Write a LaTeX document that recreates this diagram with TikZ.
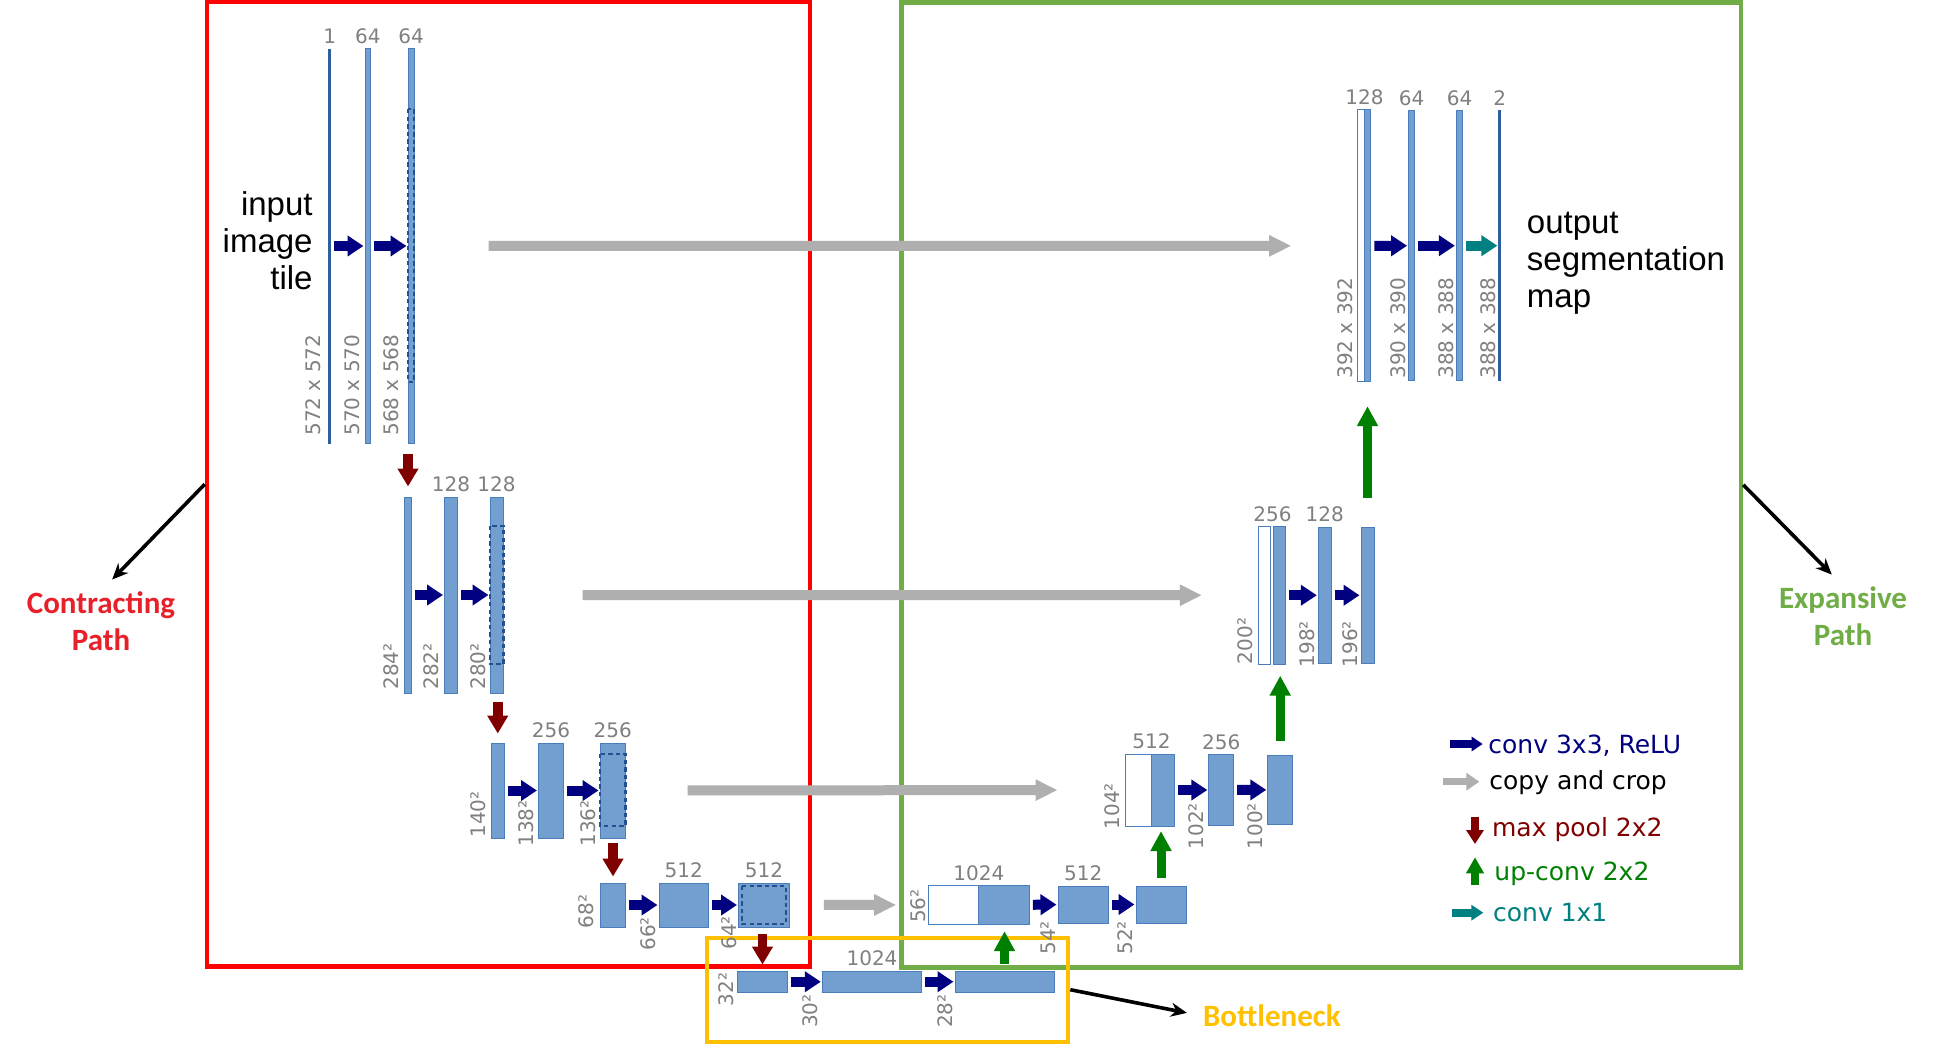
\documentclass[tikz,border=0pt]{standalone}
\usepackage{fontspec}
\setmainfont{Liberation Sans}
\newfontfamily\dvfont{DejaVu Sans}
\newfontfamily\calfont{Carlito}
\usetikzlibrary{arrows.meta,fit}

\definecolor{barfill}{HTML}{729FCF}
\definecolor{barline}{HTML}{4A7EBB}
\definecolor{thinblue}{HTML}{2F5E9E}
\definecolor{cropline}{HTML}{24508F}
\definecolor{numgray}{HTML}{808080}
\definecolor{convblue}{HTML}{000080}
\definecolor{poolred}{HTML}{800000}
\definecolor{upgreen}{HTML}{008000}
\definecolor{oneteal}{HTML}{008080}
\definecolor{copygray}{HTML}{AFAFAF}
\definecolor{contred}{HTML}{FF0000}
\definecolor{conttext}{HTML}{E8202A}
\definecolor{expgreen}{HTML}{70AD47}
\definecolor{neckyellow}{HTML}{FFC000}

\tikzset{
  fmap/.style={draw=barline, fill=barfill, line width=0.5pt, inner sep=0pt},
  copied/.style={draw=barline, fill=white, line width=0.5pt, inner sep=0pt},
  thinmap/.style={draw=thinblue, fill=thinblue, line width=0.4pt, inner sep=0pt},
  cropbox/.style={draw=cropline, line width=1.25pt, dash pattern=on 2.2pt off 1.6pt},
  chan/.style={text=numgray, font=\dvfont\fontsize{10}{12}\selectfont, anchor=base, yshift=2.5pt, inner sep=0pt},
  dimlabel/.style={text=numgray, font=\dvfont\fontsize{10}{12}\selectfont, rotate=90, anchor=west, inner sep=0pt},
  conv/.style={draw=convblue, line width=5pt, -{Triangle[length=8pt,width=10pt]}, shorten <=1.5pt, shorten >=0.5pt},
  onebyone/.style={conv, draw=oneteal},
  copycrop/.style={draw=copygray, line width=5pt, -{Triangle[length=11pt,width=10pt]}},
  pool/.style={draw=poolred, line width=4.75pt, -{Triangle[length=9pt,width=10pt]}},
  upconv/.style={draw=upgreen, line width=4.5pt, -{Triangle[length=10pt,width=10pt]}},
  keyarrow/.style={line width=4pt, shorten <=0pt, shorten >=0pt},
  pathbox/.style={line width=2.25pt, inner sep=0pt},
  pointer/.style={draw=black, line width=1.8pt, -{Stealth[length=8pt,width=7pt]}},
  pathname/.style={font=\calfont\bfseries\fontsize{15.5}{18.5}\selectfont, align=center, inner sep=0pt},
  keytext/.style={font=\dvfont\fontsize{12.5}{15}\selectfont, anchor=base west, inner sep=0pt},
  bigtext/.style={font=\fontsize{16.5}{18.5}\selectfont, inner sep=0pt}
}

\begin{document}
\begin{tikzpicture}[x=0.5pt, y=-0.5pt]
\path[use as bounding box, fill=white] (0,0) rectangle (1946,1053);

% the three framing boxes
\node[pathbox, draw=contred, fit={(207,2) (810,966.5)}] (redbox) {};
\node[pathbox, draw=expgreen, fit={(901.4,2.3) (1741,967.3)}] (greenbox) {};
\node[pathbox, line width=2pt, draw=neckyellow, fit={(706.7,937.7) (1068.3,1041.7)}] (yellowbox) {};

% contracting path
\node[thinmap, fit={(329,49) (330.5,443)}] (c1a) {};
\node[fmap, fit={(365,49) (370.5,443)}] (c1b) {};
\node[fmap, fit={(408,49) (414,443)}] (c1c) {};
\draw[cropbox] (408,109) rectangle (414,382);

\node[fmap, fit={(404.5,497) (411.5,693)}] (c2a) {};
\node[fmap, fit={(444.5,497) (457.5,693)}] (c2b) {};
\node[fmap, fit={(490,497) (503,693)}] (c2c) {};
\draw[cropbox] (490,526) rectangle (503.5,664);

\node[fmap, fit={(491.5,743) (504,838)}] (c3a) {};
\node[fmap, fit={(538.5,743) (563.5,838)}] (c3b) {};
\node[fmap, fit={(600,743) (625.5,838)}] (c3c) {};
\draw[cropbox] (600,754) rectangle (625.5,826);

\node[fmap, fit={(600.5,883) (625.5,927)}] (c4a) {};
\node[fmap, fit={(659,883) (708.5,927)}] (c4b) {};
\node[fmap, fit={(738.5,883) (789.3,927)}] (c4c) {};
\draw[cropbox] (742,886) rectangle (786,924);

% bottleneck
\node[fmap, fit={(737.5,971) (787.5,992.5)}] (b1) {};
\node[fmap, fit={(822.3,971) (921.7,992.5)}] (b2) {};
\node[fmap, fit={(955,971) (1054,992.5)}] (b3) {};

% expansive path
\node[copied, fit={(928.7,885.5) (978.3,924.3)}] (e4w) {};
\node[fmap, fit={(978.3,885.5) (1029.3,924.3)}] (e4a) {};
\node[fmap, fit={(1058,886) (1108.3,923)}] (e4b) {};
\node[fmap, fit={(1136,886) (1186,923)}] (e4c) {};

\node[copied, fit={(1125,754) (1151,826)}] (e3w) {};
\node[fmap, fit={(1151,754) (1174.7,826)}] (e3a) {};
\node[fmap, fit={(1208.8,754.8) (1233.6,825.2)}] (e3b) {};
\node[fmap, fit={(1267.8,755) (1292.6,824.6)}] (e3c) {};

\node[copied, fit={(1258.3,526.5) (1270.7,664)}] (e2w) {};
\node[fmap, fit={(1273,526.5) (1285.7,664)}] (e2a) {};
\node[fmap, fit={(1318.3,527) (1331,663.5)}] (e2b) {};
\node[fmap, fit={(1361,527.5) (1374,663)}] (e2c) {};

\node[copied, fit={(1357.7,110) (1364,381.7)}] (e1w) {};
\node[fmap, fit={(1364,110) (1370.8,381.7)}] (e1a) {};
\node[fmap, fit={(1408.6,110.7) (1414.8,380.7)}] (e1b) {};
\node[fmap, fit={(1456.4,110.7) (1462.6,380.7)}] (e1c) {};
\node[thinmap, fit={(1499,110.7) (1500.5,380.7)}] (e1d) {};

% conv 3x3
\draw[conv] (c1a) -- (c1b);
\draw[conv] (c1b) -- (c1c);
\draw[conv] (c2a) -- (c2b);
\draw[conv] (c2b) -- (c2c);
\draw[conv] (c3a) -- (c3b);
\draw[conv] (c3b) -- (c3c);
\draw[conv] (c4a) -- (c4b);
\draw[conv] (c4b) -- (c4c);
\draw[conv] (b1) -- (b2);
\draw[conv] (b2) -- (b3);
\draw[conv] (e4a) -- (e4b);
\draw[conv] (e4b) -- (e4c);
\draw[conv] (e3a) -- (e3b);
\draw[conv] (e3b) -- (e3c);
\draw[conv] (e2a) -- (e2b);
\draw[conv] (e2b) -- (e2c);
\draw[conv] (e1a) -- (e1b);
\draw[conv] (e1b) -- (e1c);
\draw[onebyone] (e1c) -- (e1d);

% copy and crop
\draw[copycrop, shorten <=37pt, shorten >=33pt] (c1c) -- (e1w);
\draw[copycrop, shorten <=39.5pt, shorten >=28pt] (c2c) -- (e2w);
\draw[copycrop, shorten <=30.75pt, shorten >=33.5pt] (c3c) -- (e3w);
\draw[copycrop, shorten <=17pt, shorten >=16pt] (c4c) -- (e4w);

% max pool
\draw[pool, shorten <=5.25pt, shorten >=5pt] (c2a.north |- c1c.south) -- (c2a.north);
\draw[pool, shorten <=4pt, shorten >=4.5pt] (c3a.north |- c2c.south) -- (c3a.north);
\draw[pool, shorten <=2pt, shorten >=3pt] (c4a.north |- c3c.south) -- (c4a.north);
\draw[pool, shorten <=3pt, shorten >=3pt] (b1.north |- c4c.south) -- (b1.north);

% up-conv
\draw[upconv, shorten <=3.5pt, shorten >=3.2pt] (b3.north) -- (b3.north |- e4a.south);
\draw[upconv, shorten <=4pt, shorten >=2.3pt] (e4c.north) -- (e4c.north |- e3a.south);
\draw[upconv, shorten <=7pt, shorten >=5.6pt] (e3c.north) -- (e3c.north |- e2a.south);
\draw[upconv, shorten <=14.75pt, shorten >=12pt] (e2c.north) -- (e2c.north |- e1a.south);

% channel numbers
\node[chan] (nc1a) at (c1a.north) {1};
\node[chan] (nc1b) at (c1b.north) {64};
\node[chan] (nc1c) at (c1c.north) {64};
\node[chan] (nc2b) at (c2b.north) {128};
\node[chan] (nc2c) at (c2c.north) {128};
\node[chan] (nc3b) at (c3b.north) {256};
\node[chan] (nc3c) at (c3c.north) {256};
\node[chan] (nc4b) at (c4b.north) {512};
\node[chan] (nc4c) at (c4c.north) {512};
\node[chan] (nb2) at (b2.north) {1024};
\node[chan] (ne4a) at (e4w.north east) {1024};
\node[chan] (ne4b) at (e4b.north) {512};
\node[chan] (ne3a) at (e3w.north east) {512};
\node[chan] (ne3b) at (e3b.north) {256};
\node[chan] (ne2a) at (e2a.north west) {256};
\node[chan] (ne2b) at (e2b.north) {128};
\node[chan] (ne1a) at (e1w.north east) {128};
\node[chan] (ne1b) at (e1b.north) {64};
\node[chan] (ne1c) at (e1c.north) {64};
\node[chan] (ne1d) at (e1d.north) {2};

% map sizes
\node[dimlabel] (sc1a) at (313,436) {572 x 572};
\node[dimlabel] (sc1b) at (352,436) {570 x 570};
\node[dimlabel] (sc1c) at (391,436) {568 x 568};
\node[dimlabel] (sc2a) at (391,690) {284²};
\node[dimlabel] (sc2b) at (431,690) {282²};
\node[dimlabel] (sc2c) at (478,690) {280²};
\node[dimlabel] (sc3a) at (478,838) {140²};
\node[dimlabel] (sc3b) at (526,847) {138²};
\node[dimlabel] (sc3c) at (588,847) {136²};
\node[dimlabel] (sc4a) at (586,928.5) {68²};
\node[dimlabel] (sc4b) at (648.5,951) {66²};
\node[dimlabel] (sc4c) at (729,950) {64²};
\node[dimlabel] (sb1) at (726.7,1006.7) {32²};
\node[dimlabel] (sb2) at (810,1028.3) {30²};
\node[dimlabel] (sb3) at (945,1028.3) {28²};
\node[dimlabel] (se4a) at (918.3,923.3) {56²};
\node[dimlabel] (se4b) at (1048.3,955) {54²};
\node[dimlabel] (se4c) at (1125,955) {52²};
\node[dimlabel] (se3a) at (1112.6,829.6) {104²};
\node[dimlabel] (se3b) at (1196.4,849.7) {102²};
\node[dimlabel] (se3c) at (1255.3,849.7) {100²};
\node[dimlabel] (se2a) at (1244.8,664.5) {200²};
\node[dimlabel] (se2b) at (1306.8,667.6) {198²};
\node[dimlabel] (se2c) at (1350.3,667.6) {196²};
\node[dimlabel] (se1a) at (1345.3,379) {392 x 392};
\node[dimlabel] (se1b) at (1398,379) {390 x 390};
\node[dimlabel] (se1c) at (1446,379) {388 x 388};
\node[dimlabel] (se1d) at (1488,379) {388 x 388};

% input and output
\node[bigtext, align=right, anchor=north east] (intile) at (313,191) {input\\image\\tile};
\node[bigtext, align=left, anchor=north west] (outmap) at (1526.5,212) {output\\segmentation\\map};

% legend
\coordinate (k1a) at (1450,744);
\coordinate (k1b) at (1482.7,744);
\draw[conv, keyarrow, -{Triangle[length=5.5pt,width=7pt]}] (k1a) -- (k1b);
\node[keytext, text=convblue] (kconv) at (1488,753) {conv 3x3, ReLU};
\coordinate (k2a) at (1442.7,781.7);
\coordinate (k2b) at (1479.3,781.7);
\draw[copycrop, keyarrow, line width=3.5pt, -{Triangle[length=6.5pt,width=8.5pt]}] (k2a) -- (k2b);
\node[keytext] (kcopy) at (1489,789) {copy and crop};
\coordinate (k3a) at (1475,816.7);
\coordinate (k3b) at (1475,844);
\draw[pool, keyarrow, -{Triangle[length=7pt,width=8.5pt]}] (k3a) -- (k3b);
\node[keytext, text=poolred] (kpool) at (1491.7,836.7) {max pool 2x2};
\coordinate (k4a) at (1475,885);
\coordinate (k4b) at (1475,857.3);
\draw[upconv, keyarrow, -{Triangle[length=8pt,width=8.5pt]}] (k4a) -- (k4b);
\node[keytext, text=upgreen] (kup) at (1494,880) {up-conv 2x2};
\coordinate (k5a) at (1451.7,912.7);
\coordinate (k5b) at (1483.3,912.7);
\draw[onebyone, keyarrow, -{Triangle[length=6pt,width=7.5pt]}] (k5a) -- (k5b);
\node[keytext, text=oneteal] (kone) at (1492.7,921.5) {conv 1x1};

% path names
\node[pathname, text=conttext, anchor=north] (contract) at (101,591) {Contracting\\Path};
\node[pathname, text=expgreen, anchor=north] (expand) at (1843,586) {Expansive\\Path};
\node[pathname, text=neckyellow, anchor=west] (bneck) at (1202.6,1016) {Bottleneck};
\draw[pointer, shorten >=8pt] (redbox.west) -- (contract.north);
\draw[pointer, shorten >=8pt] (greenbox.east) -- (expand.north);
\draw[pointer, shorten >=8pt] (yellowbox.east) -- (bneck.west);
\end{tikzpicture}
\end{document}
